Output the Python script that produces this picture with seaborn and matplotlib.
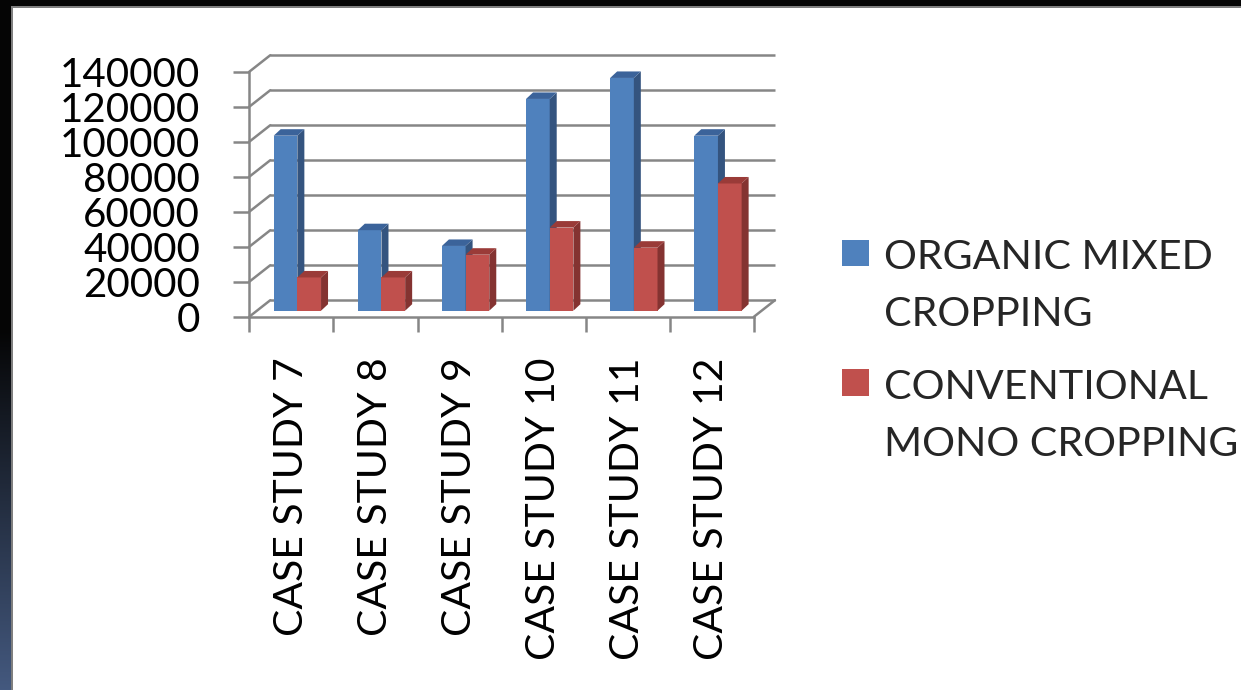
import numpy as np
import pandas as pd
import matplotlib
matplotlib.use("Agg")
import matplotlib.pyplot as plt
import seaborn as sns
from matplotlib.transforms import ScaledTranslation
from matplotlib.patches import Polygon, Rectangle
from matplotlib.lines import Line2D

# ---------------- data ----------------
categories = ["CASE STUDY 7", "CASE STUDY 8", "CASE STUDY 9",
              "CASE STUDY 10", "CASE STUDY 11", "CASE STUDY 12"]
organic = [100000, 46000, 37000, 121000, 133000, 100000]
conventional = [19000, 19000, 32000, 47500, 36000, 72700]
series_names = ["ORGANIC MIXED\nCROPPING", "CONVENTIONAL\nMONO CROPPING"]
y_ticks = [0, 20000, 40000, 60000, 80000, 100000, 120000, 140000]

# ---------------- style ----------------
sns.set_style("white")
plt.rcParams["font.family"] = ["Lato", "DejaVu Sans"]

W, H, DPI = 1241, 690, 100
PX = DPI / 72.0  # pixels per point
fig = plt.figure(figsize=(W / DPI, H / DPI), dpi=DPI, facecolor="white")


def fxy(x, y):
    """image pixel -> figure fraction"""
    return x / W, 1 - y / H


GRID = "#868686"
LW = 1.8

# frame decorations (slide background)
grad = fig.add_axes([0, 0, 11 / W, 1])
t = np.linspace(0, 1, H)[:, None]
frac = np.clip((t - 330 / H) / (1 - 330 / H), 0, 1)
c0 = np.array([0.02, 0.02, 0.02])
c1 = np.array([0x44, 0x59, 0x7f]) / 255
img = (c0[None, None, :] * (1 - frac[..., None]) + c1[None, None, :] * frac[..., None])
grad.imshow(img, aspect="auto", extent=[0, 1, 0, 1], origin="upper")
grad.set_axis_off()
fig.add_artist(Rectangle(fxy(11, H), 2 / W, 1, transform=fig.transFigure,
                         color="#7f7f7f", lw=0))
fig.add_artist(Rectangle(fxy(0, 6), 1, 6 / H, transform=fig.transFigure,
                         color="#050505", lw=0))
fig.add_artist(Rectangle(fxy(11, 8), 1, 2 / H, transform=fig.transFigure,
                         color="#7f7f7f", lw=0))

# ---------------- main axes (front plane) ----------------
ax = fig.add_axes([249.3 / W, 1 - 316.7 / H, 504.7 / W, 245 / H])
ax.set_facecolor("none")

df = pd.DataFrame({
    "case": categories * 2,
    "value": organic + conventional,
    "series": [series_names[0]] * len(categories) + [series_names[1]] * len(categories),
})
front_cols = {series_names[0]: "#4F81BD", series_names[1]: "#C0504D"}
side_cols = {"#4F81BD": "#34547F", "#C0504D": "#843331"}
top_cols = {"#4F81BD": "#3B639A", "#C0504D": "#9A3B38"}

sns.barplot(data=df, x="case", y="value", hue="series", palette=front_cols,
            width=0.563, saturation=1, linewidth=0, ax=ax)
handles, labels = ax.get_legend_handles_labels()
if ax.get_legend() is not None:
    ax.get_legend().remove()

ax.set_xlim(-0.5, 5.5)
ax.set_ylim(0, 140000)
ax.set_xlabel("")
ax.set_ylabel("")

# 3D effect for bars
shift = np.array([6.0, 6.0])
depth = np.array([7.0, 6.5])
off = ScaledTranslation(shift[0] / DPI, shift[1] / DPI, fig.dpi_scale_trans)
to_fig = fig.transFigure.inverted()
bars = [p for p in ax.patches if isinstance(p, Rectangle)]
for p in bars:
    fc = matplotlib.colors.to_hex(p.get_facecolor()).upper()
    z = 2 if fc == "#4F81BD" else 3
    x0, w, h = p.get_x(), p.get_width(), p.get_height()
    p.set_transform(ax.transData + off)
    p.set_zorder(z)
    p.set_clip_on(False)
    br = ax.transData.transform((x0 + w, 0)) + shift
    tl = ax.transData.transform((x0, h)) + shift
    tr = ax.transData.transform((x0 + w, h)) + shift
    side = to_fig.transform(np.array([br, br + depth, tr + depth, tr]))
    top = to_fig.transform(np.array([tl, tr, tr + depth, tl + depth]))
    ax.add_patch(Polygon(side, closed=True, transform=fig.transFigure,
                         facecolor=side_cols.get(fc, "#333333"), lw=0,
                         zorder=z + 0.1, clip_on=False))
    ax.add_patch(Polygon(top, closed=True, transform=fig.transFigure,
                         facecolor=top_cols.get(fc, "#333333"), lw=0,
                         zorder=z + 0.1, clip_on=False))

# back wall gridlines and connectors
back_d = np.array([21.0, 16.5])
back = ScaledTranslation(back_d[0] / DPI, back_d[1] / DPI, fig.dpi_scale_trans)
for v in y_ticks:
    ax.plot([-0.5, 5.5], [v, v], transform=ax.transData + back, color=GRID,
            lw=LW, clip_on=False, zorder=0.5, solid_capstyle="butt")
    p0 = ax.transData.transform((-0.5, v))
    seg = to_fig.transform(np.array([p0, p0 + back_d]))
    ax.add_line(Line2D(seg[:, 0], seg[:, 1], transform=fig.transFigure,
                       color=GRID, lw=LW, clip_on=False, zorder=0.5))
p0 = ax.transData.transform((5.5, 0))
seg = to_fig.transform(np.array([p0, p0 + back_d]))
ax.add_line(Line2D(seg[:, 0], seg[:, 1], transform=fig.transFigure,
                   color=GRID, lw=LW, clip_on=False, zorder=0.5))

# spines
for s in ["top", "right"]:
    ax.spines[s].set_visible(False)
for s in ["left", "bottom"]:
    ax.spines[s].set_color(GRID)
    ax.spines[s].set_linewidth(LW)
    ax.spines[s].set_zorder(1)

# ticks
ax.set_yticks(y_ticks)
ax.set_yticklabels([str(v) for v in y_ticks])
ax.tick_params(axis="y", which="major", direction="out", length=11.5, width=LW,
               color=GRID, labelsize=29, pad=24, labelcolor="black", left=True)

ax.set_xticks(np.arange(-0.5, 6, 1.0))
ax.set_xticklabels([""] * 7)
ax.set_xticks(np.arange(len(categories)), labels=categories, minor=True)
ax.tick_params(axis="x", which="major", direction="out", length=10.8, width=LW,
               color=GRID, bottom=True)
ax.tick_params(axis="x", which="minor", length=0, pad=29.5, labelsize=29.4,
               labelrotation=90, labelcolor="black", bottom=True)

# legend
LFS = 29.6
leg = fig.legend(handles, labels, loc="upper left", bbox_to_anchor=fxy(842, 239),
                 frameon=False, fontsize=LFS, handlelength=0.66, handleheight=0.61,
                 handletextpad=0.37, labelspacing=0.88, borderpad=0,
                 borderaxespad=0)
for txt in leg.get_texts():
    txt.set_linespacing(1.66)

# align each legend square with the first line of its (two-line) label
fig.canvas.draw()
for hdl, txt in zip(leg.legend_handles, leg.get_texts()):
    tb = txt.get_window_extent()
    hb = hdl.get_window_extent()
    dy_px = (tb.y1 - 0.5) - hb.y1
    hdl.set_y(hdl.get_y() + dy_px / PX)

fig.savefig("out.png", dpi=DPI, facecolor=fig.get_facecolor())
